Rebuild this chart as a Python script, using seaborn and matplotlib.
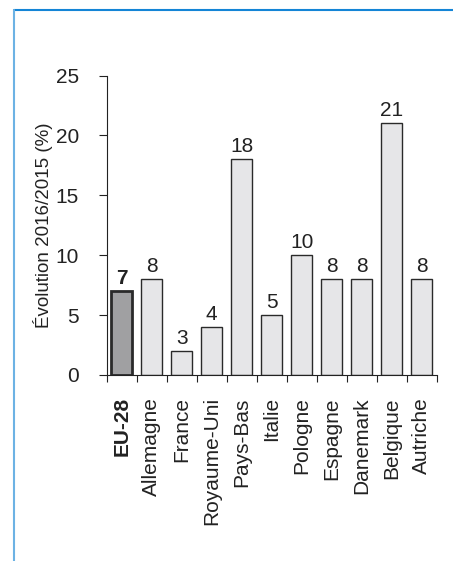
import pandas as pd
import numpy as np
import matplotlib
matplotlib.use("Agg")
import matplotlib.pyplot as plt
import seaborn as sns
from matplotlib.lines import Line2D

# 数据
pays = ["EU-28", "Allemagne", "France", "Royaume-Uni", "Pays-Bas", "Italie",
        "Pologne", "Espagne", "Danemark", "Belgique", "Autriche"]
valeurs = [7, 8, 2, 4, 18, 5, 10, 8, 8, 21, 8]
etiquettes = ["7", "8", "3", "4", "18", "5", "10", "8", "8", "21", "8"]
yticks = [0, 5, 10, 15, 20, 25]

sns.set_theme(style="white")
plt.rcParams['font.family'] = ['Liberation Sans', 'DejaVu Sans']
plt.rcParams['text.color'] = '#222222'
plt.rcParams['axes.labelcolor'] = '#222222'
plt.rcParams['xtick.color'] = '#222222'
plt.rcParams['ytick.color'] = '#222222'

df = pd.DataFrame({"pays": pays, "valeur": valeurs})
couleurs = ["#a0a0a2"] + ["#e6e6e8"] * (len(pays) - 1)

fig = plt.figure(figsize=(4.53, 5.61), dpi=100)
ax = fig.add_axes([0.2355, 0.3316, 0.7285, 0.5338])

sns.barplot(data=df, x="pays", y="valeur", hue="pays", palette=couleurs,
            width=0.72, legend=False, saturation=1, ax=ax)

for i, p in enumerate(ax.patches):
    p.set_edgecolor("#2a2a2a")
    p.set_linewidth(2.0 if i == 0 else 1.0)

# 数值标签
for i, (v, lab) in enumerate(zip(valeurs, etiquettes)):
    ax.annotate(lab, (i, v), xytext=(0, 5), textcoords="offset points",
                ha="center", va="baseline", fontsize=15,
                fontweight="bold" if i == 0 else "normal")

ax.set_xlim(-0.5, len(pays) - 0.5)
ax.set_ylim(0, 25)
ax.set_yticks(yticks)
ax.tick_params(axis="y", left=True, length=6, width=0.8, labelsize=15, pad=14)
ax.set_ylabel("Évolution 2016/2015 (%)", fontsize=13.5)
ax.yaxis.set_label_coords(-0.163, 0.5)
ax.set_xlabel("")

# x 轴：主刻度在类别之间，标签在次刻度上
ax.set_xticks(np.arange(-0.5, len(pays), 1.0))
ax.set_xticklabels([])
ax.tick_params(axis="x", which="major", bottom=True, length=5, width=0.8)
ax.set_xticks(range(len(pays)), minor=True)
ax.set_xticklabels(pays, minor=True, rotation=90, fontsize=15, va="top")
ax.tick_params(axis="x", which="minor", bottom=True, length=0, pad=16)
ax.get_xticklabels(minor=True)[0].set_fontweight("bold")

sns.despine(ax=ax)
for s in ["left", "bottom"]:
    ax.spines[s].set_color("#222222")
    ax.spines[s].set_linewidth(0.8)

# 外框（蓝色）
fig.add_artist(Line2D([13.5 / 453, 1.0], [1 - 10 / 561, 1 - 10 / 561],
                      transform=fig.transFigure, color="#1485d6", linewidth=1.5))
fig.add_artist(Line2D([13.5 / 453, 13.5 / 453], [1 - 10 / 561, 0.0],
                      transform=fig.transFigure, color="#6cb2e4", linewidth=1.5))

fig.savefig("out.png", dpi=100)
